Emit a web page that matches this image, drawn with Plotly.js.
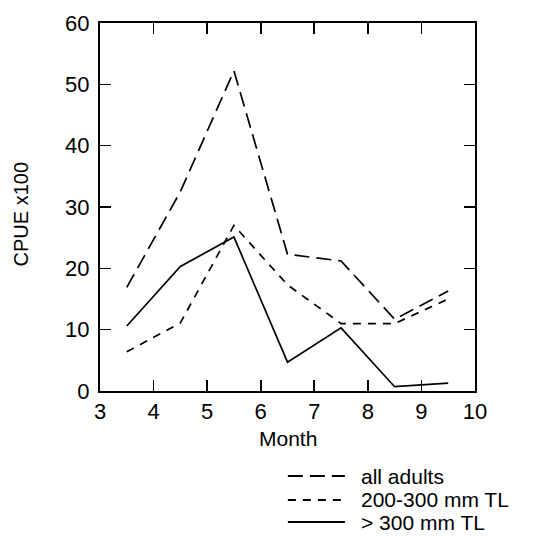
<!DOCTYPE html>
<html><head><meta charset="utf-8">
<script src="https://cdn.plot.ly/plotly-3.0.1.min.js"></script>
<style>html,body{margin:0;padding:0;background:#fff}</style>
</head><body>
<div id="chart" style="width:543px;height:536px"></div>
<script>
var months = [3.5, 4.5, 5.5, 6.5, 7.5, 8.5, 9.5];
var allAdults = [16.9, 32.5, 52.2, 22.3, 21.2, 11.7, 16.3];
var mid = [6.4, 11.1, 27.0, 17.3, 11.0, 11.0, 15.0];
var large = [10.6, 20.3, 25.1, 4.7, 10.3, 0.7, 1.3];
var names = ["all adults", "200-300 mm TL", "> 300 mm TL"];
var xTicks = [3, 4, 5, 6, 7, 8, 9, 10];
var yTicks = [0, 10, 20, 30, 40, 50, 60];
var yTitle = "CPUE x100";
var xTitle = "Month";

var FONT = 'Liberation Sans, Arial, sans-serif';
var dashes = ['15px,7px', '8px,7px', 'solid'];
var series = [allAdults, mid, large];

var traces = series.map(function (s, i) {
  return {x: months, y: s, name: names[i], mode: 'lines', showlegend: false,
    line: {color: '#000', width: 1.7, dash: dashes[i]}};
});

// Custom legend (keys are longer than Plotly's default legend samples)
var legendY = [-0.231, -0.296, -0.356];
var shapes = [], annotations = [];
names.forEach(function (n, i) {
  shapes.push({type: 'line', xref: 'paper', yref: 'paper', x0: 0.501, x1: 0.653, y0: legendY[i], y1: legendY[i],
    line: {color: '#000', width: 2, dash: dashes[i]}});
  annotations.push({xref: 'paper', yref: 'paper', x: 0.69, y: legendY[i], xanchor: 'left', yanchor: 'middle',
    text: n, showarrow: false, font: {family: FONT, size: 21, color: '#000'}});
});
annotations.push({xref: 'paper', yref: 'paper', x: -0.212, y: 0.481, xanchor: 'center', yanchor: 'middle',
  textangle: -90, text: yTitle, showarrow: false, font: {family: FONT, size: 20, color: '#000'}});
annotations.push({xref: 'paper', yref: 'paper', x: 0.5, y: -0.13, xanchor: 'center', yanchor: 'middle',
  text: xTitle, showarrow: false, font: {family: FONT, size: 21, color: '#000'}});

var axisCommon = {showgrid: false, zeroline: false, showline: true, linecolor: '#000', linewidth: 2,
  mirror: 'ticks', ticks: 'inside', ticklen: 11, tickwidth: 1.6, tickcolor: '#000',
  tickfont: {family: FONT, size: 22, color: '#000'}, automargin: false};
var layout = {
  width: 543, height: 536,
  margin: {l: 100, r: 68, t: 23, b: 145},
  paper_bgcolor: '#fff', plot_bgcolor: '#fff',
  xaxis: Object.assign({}, axisCommon, {range: [3, 10], tickvals: xTicks, ticktext: xTicks.map(String),
    ticklabelstandoff: 0}),
  yaxis: Object.assign({}, axisCommon, {range: [0, 60], tickvals: yTicks, ticktext: yTicks.map(String),
    ticklabelstandoff: 4}),
  showlegend: false,
  shapes: shapes,
  annotations: annotations
};
Plotly.newPlot('chart', traces, layout, {displayModeBar: false, staticPlot: true});
</script>
</body></html>
